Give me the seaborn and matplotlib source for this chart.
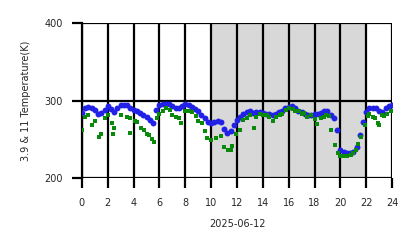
import matplotlib
matplotlib.use("Agg")
import matplotlib.pyplot as plt
import seaborn as sns
import pandas as pd

blue_hours = [i * 0.25 for i in range(97)]
blue_temp = [284, 290, 292, 290, 288, 283, 284, 288, 293, 289, 285, 290, 294, 294, 294, 291,
             288, 286, 284, 281, 279, 275, 271, 288, 294, 295, 296, 295, 293, 291, 290, 293,
             295, 294, 292, 289, 286, 282, 277, 272, 271, 272, 273, 272, 263, 258, 261, 268,
             275, 279, 283, 285, 286, 284, 285, 285, 284, 283, 283, 282, 283, 285, 287, 290,
             292, 293, 290, 287, 285, 283, 282, 282, 283, 283, 284, 286, 287, 282, 278, 262,
             236, 233, 232, 232, 234, 240, 255, 272, 285, 291, 291, 290, 286, 285, 290, 293, 294]

green_hours = [0.0, 0.2, 0.5, 0.8, 1.0, 1.3, 1.5, 1.8, 2.0, 2.3, 2.4, 2.5, 3.0, 3.5, 3.7, 3.75,
               4.1, 4.3, 4.6, 4.8, 5.0, 5.2, 5.4, 5.6, 5.8, 6.0, 6.3, 6.5, 6.8, 7.0, 7.3, 7.5,
               7.7, 8.0, 8.3, 8.5, 8.8, 9.0, 9.3, 9.5, 9.7, 10.0, 10.4, 10.8, 11.0, 11.3, 11.5,
               11.6, 11.9, 12.2, 12.5, 12.8, 13.0, 13.3, 13.5, 13.8, 14.0, 14.3, 14.5, 14.8,
               15.0, 15.3, 15.5, 15.8, 16.0, 16.3, 16.5, 16.8, 17.0, 17.2, 17.4, 17.7, 18.0,
               18.2, 18.5, 18.7, 18.9, 19.1, 19.3, 19.6, 19.8, 20.0, 20.3, 20.5, 20.8, 21.0,
               21.2, 21.4, 21.6, 21.9, 22.1, 22.2, 22.5, 22.7, 22.9, 23.0, 23.2, 23.4, 23.6, 23.9]
green_temp = [262, 279, 281, 269, 274, 253, 257, 277, 281, 271, 257, 264, 282, 279, 277, 258,
              273, 272, 264, 262, 257, 256, 251, 247, 277, 283, 287, 290, 288, 281, 279, 278,
              271, 286, 287, 285, 280, 274, 271, 261, 252, 249, 252, 254, 240, 236, 236,
              242, 257, 262, 275, 278, 281, 264, 279, 283, 281, 281, 279, 273,
              279, 281, 283, 288, 291, 289, 287, 286, 283, 284, 279, 281, 276,
              270, 277, 279, 282, 280, 262, 243, 232, 229, 228, 228, 230, 232,
              236, 244, 253, 268, 280, 283, 279, 277, 271, 268, 281, 280, 283, 287]

x_ticks = list(range(0, 25, 2))
y_ticks = [200, 300, 400]
shade_span = (10, 22)
x_label = "2025-06-12"
y_label = "3.9 & 11 Temperature(K)"

sns.set_theme(style="white")
plt.rcParams['font.family'] = ['DejaVu Sans']

fig = plt.figure(figsize=(4.18, 2.48), dpi=100)
ax = fig.add_axes([0.196, 0.282, 0.742, 0.625])

ax.axvspan(shade_span[0], shade_span[1], color="#d8d8d8", zorder=0, lw=0)

blue_df = pd.DataFrame({"hour": blue_hours, "temp": blue_temp})
green_df = pd.DataFrame({"hour": green_hours, "temp": green_temp})

sns.scatterplot(data=blue_df, x="hour", y="temp", ax=ax, color="#2222e6", s=18,
                marker="o", linewidth=0, zorder=3)
sns.scatterplot(data=green_df, x="hour", y="temp", ax=ax, color="#0a8a0a", s=7,
                marker="s", linewidth=0, zorder=4)

ax.set_xlim(0, 24)
ax.set_ylim(200, 400)
ax.set_xticks(x_ticks)
ax.set_xticklabels([str(t) for t in x_ticks])
ax.set_yticks(y_ticks)
ax.set_yticklabels([str(t) for t in y_ticks])
ax.grid(True, color="black", linewidth=1.6, zorder=2)
ax.set_axisbelow(False)
for sp in ax.spines.values():
    sp.set_visible(False)
ax.spines['left'].set_visible(True)
ax.spines['left'].set_color("black")
ax.spines['left'].set_linewidth(1.6)

ax.tick_params(axis="both", which="major", length=7, width=1.6, color="black",
               labelsize=7, pad=7, bottom=True, left=True)
ax.set_xlabel(x_label, fontsize=7, labelpad=8)
ax.set_ylabel(y_label, fontsize=7, labelpad=9)

fig.savefig("out.png", dpi=100)
